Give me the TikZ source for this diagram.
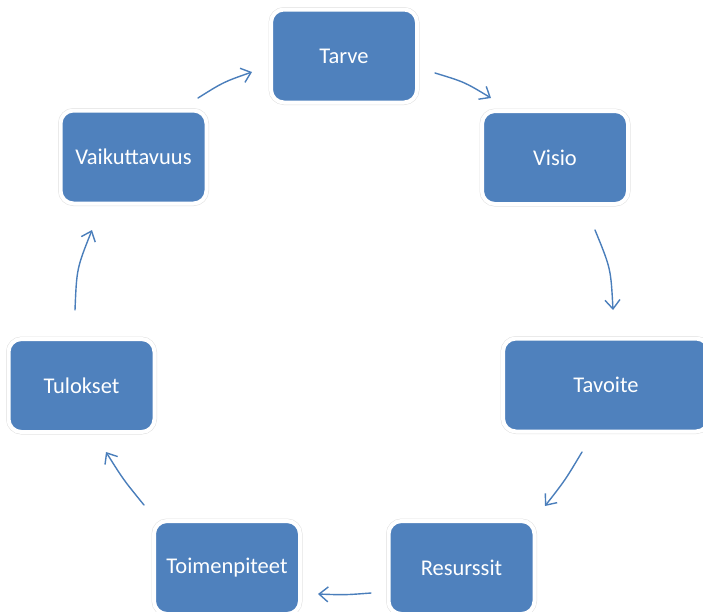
\documentclass[tikz,border=0pt]{standalone}
\usepackage{fontspec}
\setmainfont{Carlito}
\usetikzlibrary{arrows.meta}
\definecolor{boxblue}{HTML}{4F81BD}
\definecolor{arrowblue}{HTML}{4A7EBB}
\tikzset{
  stepbox/.style={rounded corners=13pt, fill=boxblue, draw=white, line width=4pt,
    preaction={draw=black!12, line width=5pt},
    minimum width=146pt, minimum height=93pt, inner sep=0pt,
    text=white, font=\fontsize{22.5}{26}\selectfont},
  widebox/.style={stepbox, minimum width=206pt},
  flow/.style={draw=arrowblue, line width=1.4pt, line cap=round,
    -{Straight Barb[length=9pt, width=15pt, line width=1.4pt]}}
}
\begin{document}
\begin{tikzpicture}[x=1pt, y=-1pt]
\useasboundingbox (0,0) rectangle (703,611);
\node[stepbox] (tarve) at (344,56) {Tarve};
\node[stepbox] (visio) at (555,157.5) {Visio};
\node[widebox] (tavoite) at (606,385) {Tavoite};
\node[stepbox] (resurssit) at (461.5,567.5) {Resurssit};
\node[stepbox] (toimenpiteet) at (227,567.5) {Toimenpiteet};
\node[stepbox] (tulokset) at (81.5,385.5) {Tulokset};
\node[stepbox] (vaikuttavuus) at (133.5,157) {Vaikuttavuus};
% arrow end points
\coordinate (a1s) at (435,73);  \coordinate (a1e) at (491,98);
\coordinate (a2s) at (595,230); \coordinate (a2e) at (613,310);
\coordinate (a3s) at (582,452); \coordinate (a3e) at (545,506);
\coordinate (a4s) at (371,593); \coordinate (a4e) at (318,594);
\coordinate (a5s) at (144,505); \coordinate (a5e) at (106,452);
\coordinate (a6s) at (75,310);  \coordinate (a6e) at (92,230);
\coordinate (a7s) at (198,98);  \coordinate (a7e) at (252,72);
\draw[flow] (a1s) .. controls (464.5,82) .. (a1e);
\draw[flow] (a2s) .. controls (610.8,268.5) .. (a2e);
\draw[flow] (a3s) .. controls (565.2,480.1) .. (a3e);
\draw[flow] (a4s) .. controls (344.5,595) .. (a4e);
\draw[flow] (a5s) .. controls (123.4,479.7) .. (a5e);
\draw[flow] (a6s) .. controls (76.7,268.5) .. (a6e);
\draw[flow] (a7s) .. controls (223.5,82) .. (a7e);
\end{tikzpicture}
\end{document}
